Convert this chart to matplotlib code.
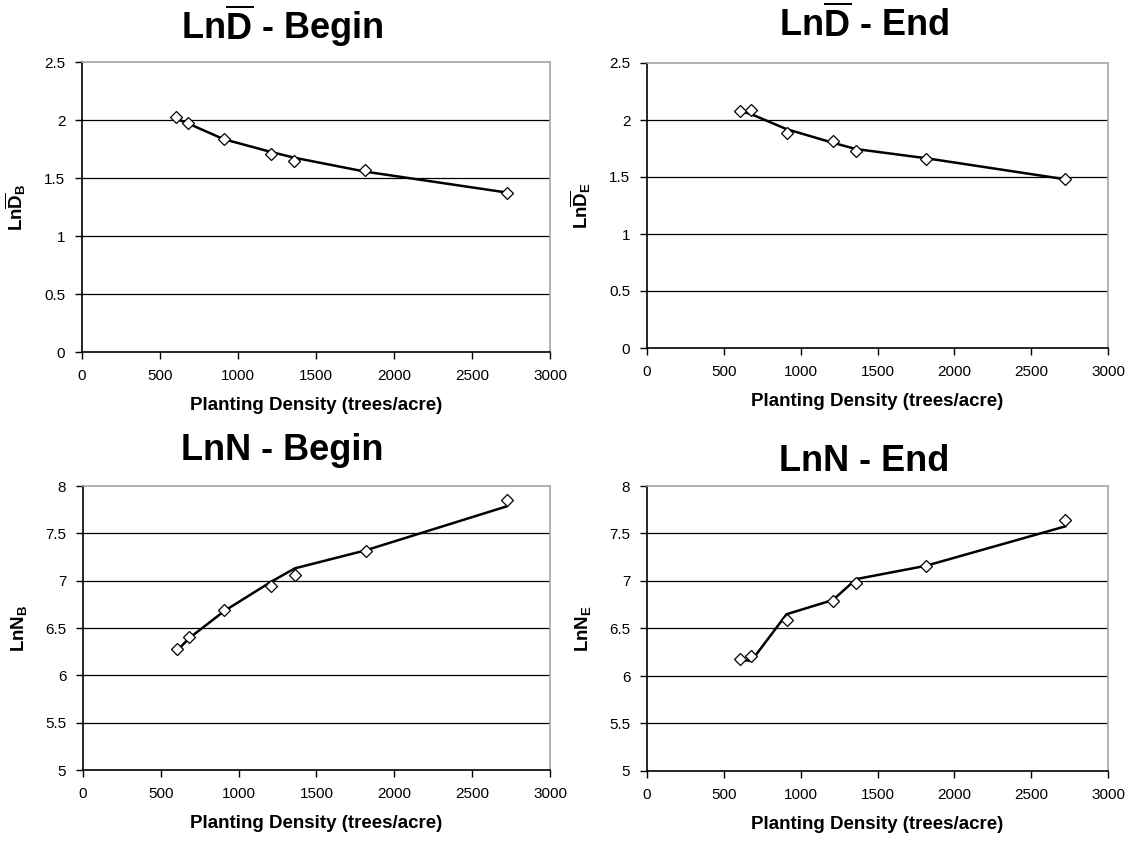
import numpy as np
import matplotlib
matplotlib.use('Agg')
import matplotlib.pyplot as plt

plt.rcParams['font.family'] = ['Liberation Sans', 'DejaVu Sans']
plt.rcParams['mathtext.fontset'] = 'custom'
plt.rcParams['mathtext.rm'] = 'Liberation Sans:bold'
plt.rcParams['mathtext.bf'] = 'Liberation Sans:bold'
plt.rcParams['mathtext.it'] = 'Liberation Sans:bold'

# planting density (trees/acre)
density = [605, 680, 908, 1210, 1361, 1815, 2722]

# observed values (diamonds) and fitted lines
lnd_begin_obs = [2.03, 1.97, 1.84, 1.71, 1.65, 1.57, 1.37]
lnd_begin_fit = [2.01, 1.97, 1.835, 1.725, 1.675, 1.555, 1.375]
lnd_end_obs = [2.08, 2.09, 1.89, 1.82, 1.73, 1.66, 1.48]
lnd_end_fit = [2.08, 2.05, 1.92, 1.80, 1.745, 1.665, 1.48]
lnn_begin_obs = [6.28, 6.41, 6.69, 6.94, 7.06, 7.31, 7.85]
lnn_begin_fit = [6.26, 6.39, 6.68, 6.99, 7.13, 7.32, 7.785]
lnn_end_obs = [6.18, 6.21, 6.59, 6.79, 6.98, 7.16, 7.64]
lnn_end_fit = [6.17, 6.16, 6.65, 6.80, 7.02, 7.16, 7.575]

xticks = [0, 500, 1000, 1500, 2000, 2500, 3000]
d_ticks = [0, 0.5, 1, 1.5, 2, 2.5]
n_ticks = [5, 5.5, 6, 6.5, 7, 7.5, 8]
d_ticklabels = ['0', '0.5', '1', '1.5', '2', '2.5']
n_ticklabels = ['5', '5.5', '6', '6.5', '7', '7.5', '8']

W, H = 1132, 847
fig = plt.figure(figsize=(W / 100, H / 100), dpi=100)


def panel(box, obs, fit, yticks, yticklabels, ylabel):
    l, t, r, b = box
    ax = fig.add_axes([l / W, 1 - b / H, (r - l) / W, (b - t) / H])
    ax.set_xlim(0, 3000)
    ax.set_ylim(yticks[0], yticks[-1])
    for yv in yticks[1:-1]:
        ax.axhline(yv, color='black', lw=0.9, zorder=1)
    ax.plot(density, fit, color='black', lw=1.8, zorder=2)
    ax.plot(density, obs, ls='none', marker='D', ms=6.5, mfc='white',
            mec='black', mew=0.9, zorder=3)
    ax.set_xticks(xticks)
    ax.set_xticklabels([str(v) for v in xticks], fontsize=11)
    ax.set_yticks(yticks)
    ax.set_yticklabels(yticklabels, fontsize=11)
    ax.tick_params(direction='out', length=5, width=1, pad=7)
    for s in ['top', 'right']:
        ax.spines[s].set_color('#a6a6a6')
        ax.spines[s].set_linewidth(1.2)
    for s in ['left', 'bottom']:
        ax.spines[s].set_color('black')
        ax.spines[s].set_linewidth(1.2)
    ax.set_xlabel('Planting Density (trees/acre)', fontsize=13.5,
                  fontweight='bold', labelpad=10)
    ax.set_ylabel(ylabel, fontsize=13.5, fontweight='bold', labelpad=12)
    return ax


panel((82, 62, 550, 352), lnd_begin_obs, lnd_begin_fit, d_ticks, d_ticklabels,
      r'Ln$\overline{\mathrm{D}}_{\mathrm{B}}$')
panel((647, 63, 1108, 348), lnd_end_obs, lnd_end_fit, d_ticks, d_ticklabels,
      r'Ln$\overline{\mathrm{D}}_{\mathrm{E}}$')
panel((83, 486, 550, 770), lnn_begin_obs, lnn_begin_fit, n_ticks, n_ticklabels,
      r'LnN$_{\mathrm{B}}$')
panel((647, 486, 1108, 771), lnn_end_obs, lnn_end_fit, n_ticks, n_ticklabels,
      r'LnN$_{\mathrm{E}}$')

titles = [(282, 26, r'Ln$\overline{\mathrm{D}}$ - Begin'),
          (864, 25, r'Ln$\overline{\mathrm{D}}$ - End'),
          (282, 450, 'LnN - Begin'),
          (864, 461, 'LnN - End')]
for tx, ty, s in titles:
    fig.text(tx / W, 1 - ty / H, s, fontsize=26, fontweight='bold',
             ha='center', va='center')

fig.savefig('out.png', dpi=100)
